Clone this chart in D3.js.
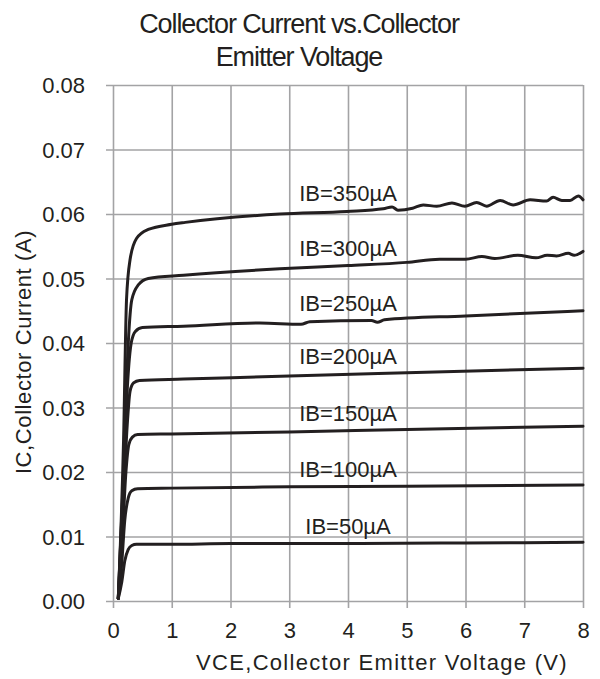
<!DOCTYPE html>
<html>
<head>
<meta charset="utf-8">
<script src="https://cdnjs.cloudflare.com/ajax/libs/d3/7.8.5/d3.min.js"></script>
<style>
  body { margin: 0; background: #fff; }
  text { font-family: 'Liberation Sans', Arial, sans-serif; fill: #231f20; }
</style>
</head>
<body>
<svg class="svgChart"></svg>
<script>
// ---- data: [VCE (V), IC (A)] ----
const ib50 = [[0.09,0.0004],[0.15,0.003],[0.2,0.0062],[0.26,0.008],[0.32,0.0086],[0.4,0.0088],[1,0.0088],[2,0.0089],[4,0.0089],[6,0.009],[8,0.0091]];
const ib100 = [[0.09,0.0004],[0.15,0.006],[0.2,0.0125],[0.26,0.016],[0.32,0.0171],[0.42,0.0174],[1,0.0175],[3,0.0177],[5,0.0178],[8,0.018]];
const ib150 = [[0.09,0.0004],[0.16,0.01],[0.22,0.02],[0.27,0.0243],[0.33,0.0254],[0.42,0.0258],[1,0.0259],[3,0.0262],[5,0.0266],[8,0.0271]];
const ib200 = [[0.09,0.0004],[0.17,0.014],[0.24,0.027],[0.29,0.0325],[0.35,0.0338],[0.45,0.0342],[1.2,0.0344],[3,0.0349],[5,0.0354],[8,0.0361]];
const ib250 = [[0.09,0.0004],[0.17,0.017],[0.25,0.034],[0.31,0.04],[0.38,0.0418],[0.5,0.0424],[1.2,0.0426],[2.5,0.0431],[3.2,0.0429],[3.35,0.0433],[4.4,0.0435],[4.5,0.0432],[4.62,0.0436],[6,0.0442],[8,0.045]];
const ib300 = [[0.09,0.0004],[0.18,0.02],[0.26,0.04],[0.32,0.0467],[0.43,0.049],[0.6,0.05],[1.2,0.0505],[2.84,0.0515],[4,0.052],[5,0.0525],[5.56,0.053],[6,0.053],[6.28,0.0534],[6.5,0.0531],[6.89,0.0536],[7.2,0.0532],[7.39,0.0536],[7.55,0.0535],[7.75,0.0539],[7.85,0.0536],[8,0.0542]];
const ib350 = [[0.09,0.0004],[0.18,0.025],[0.23,0.0467],[0.29,0.0529],[0.4,0.0562],[0.6,0.0576],[1,0.0584],[1.23,0.0587],[2.84,0.06],[3.98,0.0604],[4.6,0.0608],[4.75,0.0611],[4.85,0.0606],[5.1,0.0609],[5.28,0.0614],[5.51,0.0612],[5.77,0.0617],[5.99,0.0612],[6.19,0.0618],[6.36,0.0612],[6.59,0.0621],[6.81,0.0614],[7.1,0.0622],[7.38,0.062],[7.49,0.0626],[7.64,0.0621],[7.78,0.0621],[7.92,0.0628],[8,0.0622]];

const curveNames = ['IB=50µA', 'IB=100µA', 'IB=150µA', 'IB=200µA', 'IB=250µA', 'IB=300µA', 'IB=350µA'];
const curves = [ib50, ib100, ib150, ib200, ib250, ib300, ib350];

const xTicks = [0, 1, 2, 3, 4, 5, 6, 7, 8];
const yTicks = [0, 0.01, 0.02, 0.03, 0.04, 0.05, 0.06, 0.07, 0.08];

// ---- layout ----
const margin = { top: 85, right: 17, bottom: 78, left: 113 };
const totalW = 600;
const totalH = 679;
let width = totalW - margin.left - margin.right;
let height = totalH - margin.top - margin.bottom;

const ink = '#231f20';
const gridColor = '#a3a3a5';
const labelV = 4; // labels sit above each curve around VCE = 4 V

const svg = d3.select('.svgChart')
  .attr('width', totalW)
  .attr('height', totalH);

const xScale = d3.scaleLinear()
  .domain([0, 8])
  .range([0, width]);

const yScale = d3.scaleLinear()
  .domain([0, 0.08])
  .range([height, 0]);

const g = svg.append('g')
  .attr('transform', `translate(${margin.left}, ${margin.top})`);

//gridlines (they also stick out as tick marks)
const xAxis = d3.axisBottom(xScale)
  .tickValues(xTicks)
  .tickSize(-height - 7)
  .tickFormat(d3.format('d'))
  .tickPadding(14);

g.append('g')
  .attr('class', 'xAxis')
  .attr('transform', `translate(0, ${height + 7})`)
  .call(xAxis)
  .call(ax => ax.select('.domain').remove())
  .call(ax => ax.selectAll('line').attr('stroke', gridColor).attr('stroke-width', 1.6))
  .call(ax => ax.selectAll('text')
    .attr('fill', ink)
    .style('font-size', '22px'));

const yAxis = d3.axisLeft(yScale)
  .tickValues(yTicks)
  .tickSize(-width - 7)
  .tickFormat(d3.format('.2f'))
  .tickPadding(21);

g.append('g')
  .attr('class', 'yAxis')
  .attr('transform', 'translate(-7, 0)')
  .call(yAxis)
  .call(ax => ax.select('.domain').remove())
  .call(ax => ax.selectAll('line').attr('stroke', gridColor).attr('stroke-width', 1.6))
  .call(ax => ax.selectAll('text')
    .attr('fill', ink)
    .attr('dy', '0.36em')
    .style('font-size', '22px'));

// ---- curves ----
const line = d3.line()
  .x(d => xScale(d[0]))
  .y(d => yScale(d[1]))
  .curve(d3.curveMonotoneX);

g.append('g')
  .attr('class', 'chart')
  .selectAll('path')
  .data(curves)
  .enter()
  .append('path')
    .attr('d', line)
    .attr('fill', 'none')
    .attr('stroke', ink)
    .attr('stroke-width', 3)
    .attr('stroke-linejoin', 'round')
    .attr('stroke-linecap', 'round');

//value of a curve at a given VCE (linear between read points)
const valueAt = (pts, v) => {
  const i = d3.bisector(d => d[0]).left(pts, v);
  const a = pts[i - 1], b = pts[i];
  return a[1] + (b[1] - a[1]) * (v - a[0]) / (b[0] - a[0]);
};

g.append('g')
  .attr('class', 'curveLabels')
  .selectAll('text')
  .data(curves)
  .enter()
  .append('text')
    .attr('x', xScale(labelV))
    .attr('y', d => yScale(valueAt(d, labelV)) - 10)
    .attr('text-anchor', 'middle')
    .style('font-size', '22px')
    .text((d, i) => curveNames[i]);

// ---- titles ----
svg.append('text')
  .attr('class', 'chartTitle')
  .attr('x', 299)
  .attr('y', 33)
  .attr('text-anchor', 'middle')
  .style('font-size', '27px')
  .style('letter-spacing', '-1.1px')
  .text('Collector Current vs.Collector');

svg.append('text')
  .attr('class', 'chartTitle')
  .attr('x', 299)
  .attr('y', 66)
  .attr('text-anchor', 'middle')
  .style('font-size', '27px')
  .style('letter-spacing', '-1.1px')
  .text('Emitter Voltage');

svg.append('text')
  .attr('class', 'xTitle')
  .attr('x', 382)
  .attr('y', 670)
  .attr('text-anchor', 'middle')
  .style('font-size', '22px')
  .style('letter-spacing', '1.3px')
  .text('VCE,Collector Emitter Voltage (V)');

svg.append('text')
  .attr('class', 'yTitle')
  .attr('transform', 'translate(31, 352) rotate(-90)')
  .attr('text-anchor', 'middle')
  .style('font-size', '22px')
  .style('letter-spacing', '0.6px')
  .text('IC,Collector Current (A)');
</script>
</body>
</html>
